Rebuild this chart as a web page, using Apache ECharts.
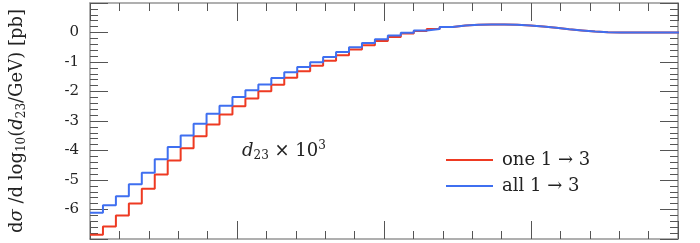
<!DOCTYPE html>
<html>
<head>
<meta charset="utf-8">
<script src="https://cdn.jsdelivr.net/npm/echarts@6/dist/echarts.min.js"></script>
<style>
  html, body { margin: 0; padding: 0; background: #fff; }
  #chart { width: 700px; height: 243px; }
</style>
</head>
<body>
<div id="chart"></div>
<script>
// histogram bins along log10(d23/GeV)
const binStart = -5
const binWidth = 0.0881
const oneOneToThree = [
  -6.86, -6.58, -6.20, -5.80, -5.30, -4.81, -4.34, -3.92, -3.52, -3.12,
  -2.78, -2.50, -2.24, -1.99, -1.77, -1.53, -1.31, -1.13, -0.96, -0.77,
  -0.58, -0.43, -0.29, -0.15, -0.03, 0.05, 0.12, 0.19, 0.24, 0.26,
  0.27, 0.27, 0.26, 0.24, 0.20, 0.16, 0.11, 0.07, 0.03, 0.01,
  0.0, 0.0, 0.0, 0.0, 0.0, 0.0,
]
const allOneToThree = [
  -6.11, -5.86, -5.55, -5.14, -4.75, -4.30, -3.88, -3.49, -3.09, -2.75,
  -2.48, -2.19, -1.96, -1.76, -1.54, -1.35, -1.17, -1.01, -0.83, -0.66,
  -0.50, -0.36, -0.23, -0.10, -0.01, 0.07, 0.12, 0.19, 0.24, 0.26,
  0.27, 0.27, 0.26, 0.24, 0.20, 0.16, 0.11, 0.07, 0.03, 0.01,
  0.0, 0.0, 0.0, 0.0, 0.0, 0.0,
]
const seriesNames = ['one 1 \u2192 3', 'all 1 \u2192 3']
const seriesColors = ['#ee3a22', '#3f6ff0']

const serif = '"DejaVu Serif", serif'

// left edges of every bin plus the closing edge, last value repeated
function toSteps(values) {
  const pts = values.map((v, i) => [binStart + i * binWidth, v])
  pts.push([binStart + values.length * binWidth, values[values.length - 1]])
  return pts
}

// rich styles for math-ish labels (sub/superscripts)
const mathRich = {
  n: { fontFamily: serif, fontSize: 18, lineHeight: 22, color: '#222' },
  i: { fontFamily: serif, fontSize: 18, lineHeight: 22, fontStyle: 'italic', color: '#222' },
  sub: { fontFamily: serif, fontSize: 12, lineHeight: 12, verticalAlign: 'bottom', color: '#222' },
  sup: { fontFamily: serif, fontSize: 12, lineHeight: 12, verticalAlign: 'top', color: '#222' },
}

const frame = { show: true, onZero: false, lineStyle: { color: '#959595', width: 1.5 } }
const majorTick = { show: true, inside: true, length: 18, lineStyle: { color: '#555', width: 1 } }
const minorTick = { show: true, splitNumber: 5, length: 8, lineStyle: { color: '#555', width: 1 } }

const xBase = {
  type: 'value', min: -5, max: -1, interval: 1,
  axisLine: frame, axisTick: majorTick, minorTick: minorTick,
  axisLabel: { show: false }, splitLine: { show: false },
}
const yBase = {
  type: 'value', min: -7, max: 1, interval: 1,
  axisLine: frame, axisTick: majorTick, minorTick: minorTick,
  splitLine: { show: false },
}

var chart = echarts.init(document.getElementById('chart'))
var option = {
  backgroundColor: '#fff',
  animation: false,
  grid: { left: 87, right: 22, top: 3, bottom: 4 },
  legend: {
    orient: 'vertical',
    left: 441,
    top: 144,
    icon: 'rect',
    itemWidth: 47,
    itemHeight: 2,
    itemGap: 4,
    textStyle: { fontFamily: serif, fontSize: 18, lineHeight: 22, color: '#222', padding: [0, 0, 0, 4] },
    data: seriesNames,
  },
  xAxis: [
    Object.assign({ position: 'bottom' }, xBase),
    Object.assign({ position: 'top' }, xBase),
  ],
  yAxis: [
    Object.assign({}, yBase, {
      position: 'left',
      axisLabel: {
        margin: 11, fontFamily: serif, fontSize: 15, color: '#222',
        formatter: (v) => (v <= -7 || v >= 1 ? '' : String(v)),
      },
      name: '{n|d}{i|\u03c3 }{n|/d log}{sub|10}{n|(}{i|d}{sub|23}{n|/GeV) [pb]}',
      nameLocation: 'middle',
      nameRotate: 90,
      nameGap: 62,
      nameTextStyle: { rich: mathRich },
    }),
    Object.assign({}, yBase, { position: 'right', axisLabel: { show: false } }),
  ],
  graphic: [
    {
      type: 'text',
      left: 242,
      top: 140,
      style: {
        text: '{i|d}{sub|23}{n| \u00d7 10}{sup|3}',
        rich: {
          n: { fontFamily: serif, fontSize: 18, lineHeight: 22, fill: '#222' },
          i: { fontFamily: serif, fontSize: 18, lineHeight: 22, fontStyle: 'italic', fill: '#222' },
          sub: { fontFamily: serif, fontSize: 12, lineHeight: 12, verticalAlign: 'bottom', fill: '#222' },
          sup: { fontFamily: serif, fontSize: 12, lineHeight: 12, verticalAlign: 'top', fill: '#222' },
        },
      },
    },
  ],
  series: [oneOneToThree, allOneToThree].map((vals, k) => ({
    name: seriesNames[k],
    type: 'line',
    step: 'end',
    showSymbol: false,
    symbol: 'none',
    data: toSteps(vals),
    lineStyle: { color: seriesColors[k], width: 2 },
    itemStyle: { color: seriesColors[k] },
  })),
}
option && chart.setOption(option)
</script>
</body>
</html>
